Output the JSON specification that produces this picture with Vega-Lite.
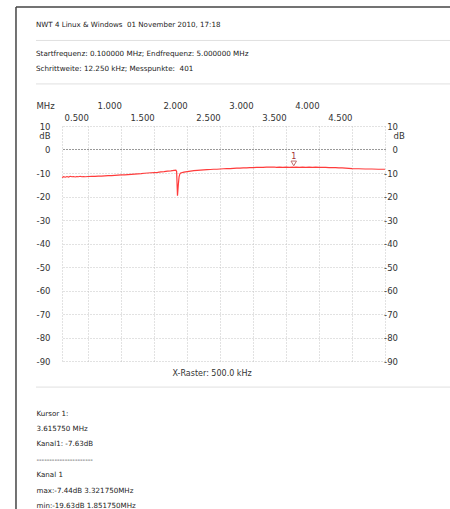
{
  "$schema": "https://vega.github.io/schema/vega-lite/v6.json",
  "width": 323,
  "height": 235,
  "autosize": {"type": "none"},
  "padding": {"left": 62, "top": 126, "right": 65, "bottom": 148},
  "background": "white",
  "config": {
    "view": {"stroke": null},
    "font": "DejaVu Sans",
    "axis": {"labelFont": "DejaVu Sans", "titleFont": "DejaVu Sans", "labelColor": "#333", "titleColor": "#333", "titleFontWeight": "normal"}
  },
  "title": {
    "text": "NWT 4 Linux & Windows \u00a001 November 2010, 17:18",
    "subtitle": ["Startfrequenz: 0.100000 MHz; Endfrequenz: 5.000000 MHz", "Schrittweite: 12.250 kHz; Messpunkte: \u00a0401"],
    "anchor": "start",
    "frame": "group",
    "dx": -26,
    "dy": 95.5,
    "offset": 30,
    "font": "DejaVu Sans",
    "fontSize": 7.1,
    "fontWeight": "normal",
    "color": "#222",
    "subtitleFont": "DejaVu Sans",
    "subtitleFontSize": 7.2,
    "subtitleColor": "#222",
    "subtitleLineHeight": 15,
    "subtitlePadding": 22
  },
  "datasets": {
    "curve": [
      {"f": 0.100, "db": -11.9}, {"f": 0.125, "db": -11.6}, {"f": 0.150, "db": -11.8}, {"f": 0.175, "db": -11.5},
      {"f": 0.200, "db": -11.7}, {"f": 0.225, "db": -11.4}, {"f": 0.250, "db": -11.6}, {"f": 0.275, "db": -11.5},
      {"f": 0.300, "db": -11.7}, {"f": 0.325, "db": -11.5}, {"f": 0.350, "db": -11.6}, {"f": 0.375, "db": -11.4},
      {"f": 0.400, "db": -11.6}, {"f": 0.425, "db": -11.5}, {"f": 0.450, "db": -11.6},
      {"f": 0.500, "db": -11.5}, {"f": 0.550, "db": -11.4}, {"f": 0.600, "db": -11.4}, {"f": 0.650, "db": -11.3},
      {"f": 0.700, "db": -11.3}, {"f": 0.750, "db": -11.2}, {"f": 0.800, "db": -11.1}, {"f": 0.850, "db": -11.1},
      {"f": 0.900, "db": -11.0}, {"f": 0.950, "db": -10.9}, {"f": 1.000, "db": -10.8}, {"f": 1.050, "db": -10.8},
      {"f": 1.100, "db": -10.7}, {"f": 1.150, "db": -10.6}, {"f": 1.200, "db": -10.5}, {"f": 1.250, "db": -10.4},
      {"f": 1.300, "db": -10.3}, {"f": 1.350, "db": -10.1}, {"f": 1.400, "db": -10.0}, {"f": 1.450, "db": -9.9},
      {"f": 1.500, "db": -9.8}, {"f": 1.550, "db": -9.7}, {"f": 1.600, "db": -9.5}, {"f": 1.650, "db": -9.4},
      {"f": 1.700, "db": -9.2}, {"f": 1.750, "db": -9.1}, {"f": 1.800, "db": -8.9}, {"f": 1.827, "db": -8.8},
      {"f": 1.839, "db": -9.3}, {"f": 1.852, "db": -19.63}, {"f": 1.864, "db": -15.2}, {"f": 1.876, "db": -11.6},
      {"f": 1.888, "db": -10.4}, {"f": 1.900, "db": -10.0}, {"f": 1.950, "db": -9.6}, {"f": 2.000, "db": -9.4},
      {"f": 2.050, "db": -9.2}, {"f": 2.100, "db": -9.0}, {"f": 2.150, "db": -8.9}, {"f": 2.200, "db": -8.8},
      {"f": 2.250, "db": -8.7}, {"f": 2.300, "db": -8.6}, {"f": 2.350, "db": -8.5}, {"f": 2.400, "db": -8.4},
      {"f": 2.450, "db": -8.4}, {"f": 2.500, "db": -8.3}, {"f": 2.550, "db": -8.2}, {"f": 2.600, "db": -8.1},
      {"f": 2.650, "db": -8.1}, {"f": 2.700, "db": -8.0}, {"f": 2.750, "db": -7.9}, {"f": 2.800, "db": -7.9},
      {"f": 2.850, "db": -7.8}, {"f": 2.900, "db": -7.8}, {"f": 2.950, "db": -7.7}, {"f": 3.000, "db": -7.7},
      {"f": 3.050, "db": -7.6}, {"f": 3.100, "db": -7.6}, {"f": 3.150, "db": -7.6}, {"f": 3.200, "db": -7.5},
      {"f": 3.250, "db": -7.5}, {"f": 3.322, "db": -7.44}, {"f": 3.350, "db": -7.6}, {"f": 3.400, "db": -7.5},
      {"f": 3.450, "db": -7.6}, {"f": 3.500, "db": -7.5}, {"f": 3.550, "db": -7.6}, {"f": 3.600, "db": -7.5},
      {"f": 3.616, "db": -7.63}, {"f": 3.650, "db": -7.5}, {"f": 3.700, "db": -7.6}, {"f": 3.750, "db": -7.5},
      {"f": 3.800, "db": -7.6}, {"f": 3.850, "db": -7.5}, {"f": 3.900, "db": -7.6}, {"f": 3.950, "db": -7.5},
      {"f": 4.000, "db": -7.6}, {"f": 4.050, "db": -7.6}, {"f": 4.100, "db": -7.6}, {"f": 4.150, "db": -7.7},
      {"f": 4.200, "db": -7.7}, {"f": 4.250, "db": -7.7}, {"f": 4.300, "db": -7.8}, {"f": 4.350, "db": -7.8},
      {"f": 4.400, "db": -7.9}, {"f": 4.450, "db": -8.0}, {"f": 4.500, "db": -8.1}, {"f": 4.600, "db": -8.2},
      {"f": 4.700, "db": -8.3}, {"f": 4.800, "db": -8.3}, {"f": 4.900, "db": -8.4}, {"f": 5.000, "db": -8.4}
    ],
    "cursor": [{"f": 3.61575, "db": -7.63, "label": "1"}],
    "one": [{"k": 1}]
  },
  "resolve": {"axis": {"x": "independent", "y": "independent"}},
  "layer": [
    {
      "data": {"name": "cursor"},
      "mark": {"type": "point", "shape": "triangle-down", "size": 30, "filled": false, "stroke": "#a33333", "strokeWidth": 1, "yOffset": -4},
      "encoding": {
        "x": {"field": "f", "type": "quantitative", "scale": {"domain": [0.1, 5.0], "nice": false, "zero": false},
          "axis": {"orient": "bottom", "values": [0.1, 0.5, 1, 1.5, 2, 2.5, 3, 3.5, 4, 4.5, 5.0], "grid": true, "gridColor": "#c4c4c4", "gridDash": [1, 2], "labels": false, "ticks": false, "domain": false,
            "title": "X-Raster: 500.0 kHz", "titleX": 110, "titleY": 12, "titleAlign": "left", "titleBaseline": "middle", "titleFontSize": 8, "titleAngle": 0}},
        "y": {"field": "db", "type": "quantitative", "scale": {"domain": [-90, 10], "nice": false, "zero": false},
          "axis": {"orient": "right", "values": [-90, -80, -70, -60, -50, -40, -30, -20, -10, 0, 10], "grid": true,
            "gridColor": {"condition": {"test": "datum.value === 0", "value": "#333333"}, "value": "#c4c4c4"}, "gridDash": [1, 2],
            "labelExpr": "toString(datum.value)",
            "ticks": false, "domain": false, "labelAlign": "right", "labelBaseline": "middle", "labelPadding": 12.5, "labelFontSize": 8.5, "labelOverlap": false, "labelFlush": false, "labelBound": false,
            "title": "dB", "titleAngle": 0, "titleX": 8, "titleY": 9, "titleAlign": "left", "titleBaseline": "middle", "titleFontSize": 8.5}}
      }
    },
    {
      "data": {"name": "curve"},
      "mark": {"type": "line", "color": "#ff3b3b", "strokeWidth": 1.2},
      "encoding": {
        "x": {"field": "f", "type": "quantitative", "scale": {"domain": [0.1, 5.0], "nice": false, "zero": false},
          "axis": {"orient": "top", "values": [0.5, 1, 1.5, 2, 2.5, 3, 3.5, 4, 4.5], "format": ".3f", "grid": false, "ticks": false, "domain": false,
            "labelAlign": "right", "labelBaseline": "middle", "labelPadding": {"condition": {"test": "datum.value % 1 === 0", "value": 20.5}, "value": 9},
            "labelOverlap": false, "labelFlush": false, "labelBound": false, "labelFontSize": 8.5,
            "title": "MHz", "titleX": -26, "titleY": -21, "titleAlign": "left", "titleBaseline": "middle", "titleAngle": 0, "titleFontSize": 8.5}},
        "y": {"field": "db", "type": "quantitative", "scale": {"domain": [-90, 10], "nice": false, "zero": false},
          "axis": {"orient": "left", "values": [-90, -80, -70, -60, -50, -40, -30, -20, -10, 0, 10], "grid": false, "ticks": false, "domain": false,
            "labelExpr": "toString(datum.value)",
            "labelAlign": "right", "labelBaseline": "middle", "labelPadding": 12, "labelFontSize": 8.5, "labelOverlap": false, "labelFlush": false, "labelBound": false,
            "title": "dB", "titleAngle": 0, "titleX": -12, "titleY": 9, "titleAlign": "right", "titleBaseline": "middle", "titleFontSize": 8.5}}
      }
    },
    {
      "data": {"name": "cursor"},
      "mark": {"type": "text", "dy": -10.5, "fontSize": 8, "color": "#a33333", "baseline": "middle", "font": "DejaVu Sans"},
      "encoding": {
        "x": {"field": "f", "type": "quantitative", "scale": {"domain": [0.1, 5.0], "nice": false, "zero": false},
          "axis": {"orient": "bottom", "grid": false, "labels": false, "ticks": false, "domain": false,
            "title": ["Kursor 1:", "3.615750 MHz", "Kanal1: -7.63dB", "----------------------", "Kanal 1", "max:-7.44dB 3.321750MHz", "min:-19.63dB 1.851750MHz"],
            "titleX": -26, "titleY": 48, "titleAlign": "left", "titleBaseline": "top", "titleLineHeight": 15.4, "titleFontSize": 7.1, "titleColor": "#222", "titleAngle": 0}},
        "y": {"field": "db", "type": "quantitative", "scale": {"domain": [-90, 10], "nice": false, "zero": false}, "axis": null},
        "text": {"field": "label", "type": "nominal"}
      }
    },
    {
      "data": {"name": "one"},
      "mark": {"type": "rule", "stroke": "#444444", "strokeWidth": 1.5},
      "encoding": {
        "x": {"datum": -0.598, "type": "quantitative", "scale": {"domain": [0.1, 5.0], "nice": false, "zero": false}, "axis": null},
        "x2": {"datum": 5.99},
        "y": {"datum": 60.6, "type": "quantitative", "scale": {"domain": [-90, 10], "nice": false, "zero": false}, "axis": null}
      }
    },
    {
      "data": {"name": "one"},
      "mark": {"type": "rule", "stroke": "#444444", "strokeWidth": 1.5},
      "encoding": {
        "x": {"datum": -0.598, "type": "quantitative", "scale": {"domain": [0.1, 5.0], "nice": false, "zero": false}, "axis": null},
        "y": {"datum": 60.6, "type": "quantitative", "scale": {"domain": [-90, 10], "nice": false, "zero": false}, "axis": null},
        "y2": {"datum": -154}
      }
    },
    {
      "data": {"name": "one"},
      "mark": {"type": "rule", "stroke": "#e0e0e0", "strokeWidth": 1},
      "encoding": {
        "x": {"datum": -0.2944, "type": "quantitative", "scale": {"domain": [0.1, 5.0], "nice": false, "zero": false}, "axis": null},
        "x2": {"datum": 5.99},
        "y": {"datum": 46.4, "type": "quantitative", "scale": {"domain": [-90, 10], "nice": false, "zero": false}, "axis": null}
      }
    },
    {
      "data": {"name": "one"},
      "mark": {"type": "rule", "stroke": "#e0e0e0", "strokeWidth": 1},
      "encoding": {
        "x": {"datum": -0.2944, "type": "quantitative", "scale": {"domain": [0.1, 5.0], "nice": false, "zero": false}, "axis": null},
        "x2": {"datum": 5.99},
        "y": {"datum": 27.9, "type": "quantitative", "scale": {"domain": [-90, 10], "nice": false, "zero": false}, "axis": null}
      }
    },
    {
      "data": {"name": "one"},
      "mark": {"type": "rule", "stroke": "#e0e0e0", "strokeWidth": 1},
      "encoding": {
        "x": {"datum": -0.2944, "type": "quantitative", "scale": {"domain": [0.1, 5.0], "nice": false, "zero": false}, "axis": null},
        "x2": {"datum": 5.99},
        "y": {"datum": -101.1, "type": "quantitative", "scale": {"domain": [-90, 10], "nice": false, "zero": false}, "axis": null}
      }
    }
  ]
}
